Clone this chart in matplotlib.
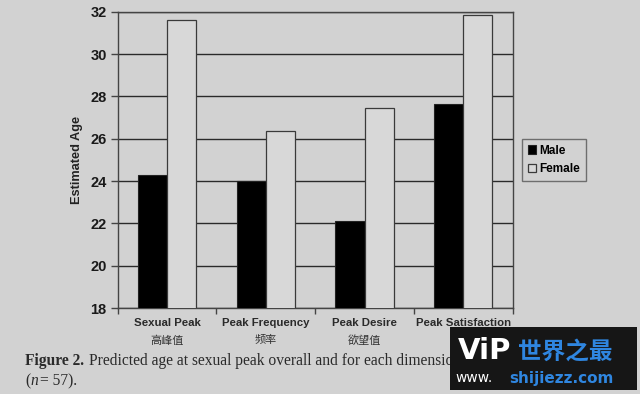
import matplotlib
matplotlib.use("Agg")
import matplotlib.pyplot as plt
import numpy as np
from matplotlib.patches import Rectangle
from matplotlib.transforms import Bbox

categories = ["Sexual Peak", "Peak Frequency", "Peak Desire", "Peak Satisfaction"]
categories_cn = ["高峰值", "频率", "欲望值", ""]
male = [24.3, 24.0, 22.1, 27.65]
female = [31.6, 26.35, 27.45, 31.85]
yticks = [18, 20, 22, 24, 26, 28, 30, 32]
series_names = ["Male", "Female"]

bg = "#d2d2d2"
fig = plt.figure(figsize=(6.4, 3.94), dpi=100, facecolor=bg)
ax = fig.add_axes([0.184, 0.218, 0.617, 0.752], facecolor=bg)

x = np.arange(len(categories))
w = 0.295
ax.bar(x - w / 2, male, w, bottom=0, color="black", edgecolor="#222222", linewidth=0.8,
       label=series_names[0], zorder=3)
ax.bar(x + w / 2, female, w, bottom=0, color="#d8d8d8", edgecolor="#3a3a3a", linewidth=0.9,
       label=series_names[1], zorder=3)

ax.set_ylim(18, 32)
ax.set_xlim(-0.5, len(categories) - 0.5)
ax.set_yticks(yticks)
ax.set_yticklabels([str(t) for t in yticks], fontsize=10.5, fontweight="bold",
                   family="Liberation Sans", color="#1a1a1a")
ax.yaxis.grid(True, color="#2a2a2a", linewidth=1.0, zorder=0)
ax.set_axisbelow(True)
for s in ax.spines.values():
    s.set_color("#444444")
    s.set_linewidth(1.0)
ax.tick_params(axis="y", length=5, width=1, color="#444444", pad=3)

# x ticks at category boundaries
ax.set_xticks(np.arange(-0.5, len(categories), 1.0))
ax.set_xticklabels([])
ax.tick_params(axis="x", length=4, width=1, color="#444444")
for i, (c, cn) in enumerate(zip(categories, categories_cn)):
    ax.text(i, -0.032, c, transform=ax.get_xaxis_transform(), ha="center", va="top",
            fontsize=8.2, fontweight="bold", family="Liberation Sans", color="#2a2a2a")
    if cn:
        ax.text(i, -0.092, cn, transform=ax.get_xaxis_transform(), ha="center", va="top",
                fontsize=8, family=["Noto Sans CJK SC", "DejaVu Sans"], color="#333333")

ax.set_ylabel("Estimated Age", fontsize=9.2, fontweight="bold", family="Liberation Sans",
              color="#222222", labelpad=5)

leg = ax.legend(loc="center left", bbox_to_anchor=(1.01, 0.50), frameon=True,
                prop={"family": "Liberation Sans", "weight": "bold", "size": 8.5},
                handlelength=0.7, handleheight=0.7, handletextpad=0.3,
                borderpad=0.45, labelspacing=0.55, fancybox=False, facecolor=bg,
                edgecolor="#555555")
leg.get_frame().set_linewidth(1.0)

# caption
cap_y1, cap_y2 = 0.084, 0.033
fig.text(0.039, cap_y1, "Figure 2.", fontsize=11.2, fontweight="bold",
         family="Liberation Serif", color="#2a2a2a", va="center")
t = fig.text(0.139, cap_y1, "Predicted age at sexual peak overall and for each dimension",
             fontsize=11.2, family="Liberation Serif", color="#2a2a2a", va="center")
t.set_clip_box(Bbox.from_extents(0, 0, 450, 394))
t.set_clip_on(True)
fig.text(0.039, cap_y2, "(", fontsize=11.2, family="Liberation Serif", color="#2a2a2a", va="center")
fig.text(0.048, cap_y2, "n", fontsize=11.2, family="Liberation Serif", style="italic",
         color="#2a2a2a", va="center")
fig.text(0.063, cap_y2, "= 57).", fontsize=11.2, family="Liberation Serif", color="#2a2a2a", va="center")

# watermark box
fig.patches.append(Rectangle((0.703, 0.01), 0.292, 0.16, transform=fig.transFigure,
                             facecolor="#161616", edgecolor="none", zorder=10))
fig.text(0.715, 0.108, "ViP", fontsize=21, fontweight="bold", color="white",
         family="DejaVu Sans", va="center", zorder=11)
fig.text(0.81, 0.108, "世界之最", fontsize=17, fontweight="bold", color="#2f86e0",
         family=["Noto Sans CJK SC", "DejaVu Sans"], va="center", zorder=11)
fig.text(0.712, 0.04, "www.", fontsize=10, color="white", family="DejaVu Sans",
         va="center", zorder=11)
fig.text(0.795, 0.04, "shijiezz.com", fontsize=11, fontweight="bold", color="#2f86e0",
         family="DejaVu Sans", va="center", zorder=11)

fig.savefig("out.png", dpi=100, facecolor=bg)
